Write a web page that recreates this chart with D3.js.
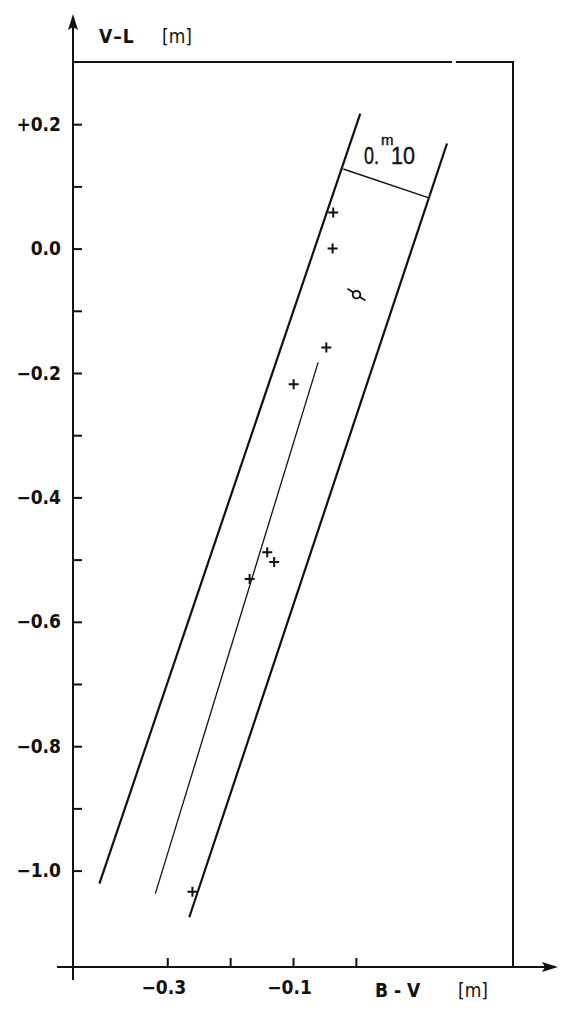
<!DOCTYPE html>
<html>
<head>
<meta charset="utf-8">
<script src="https://cdn.jsdelivr.net/npm/d3@7.9.0/dist/d3.min.js"></script>
<style>
  html, body { margin: 0; padding: 0; background: #fff; }
  svg { display: block; }
  .lbl { font-family: "DejaVu Sans Condensed", "DejaVu Sans", sans-serif; font-weight: bold; font-size: 19px; fill: #111; }
</style>
</head>
<body>
<div id="chart"></div>
<script>
// two-colour diagram, values (magnitudes)
const xTicks = [-0.3, -0.2, -0.1, 0.0];
const xTickLabels = { "-0.3": "\u22120.3", "-0.1": "\u22120.1" };
const yTicks = [0.2, 0.1, 0.0, -0.1, -0.2, -0.3, -0.4, -0.5, -0.6, -0.7, -0.8, -0.9, -1.0];
const yTickLabels = { "0.2": "+0.2", "0": "0.0", "-0.2": "\u22120.2", "-0.4": "\u22120.4",
                      "-0.6": "\u22120.6", "-0.8": "\u22120.8", "-1": "\u22121.0" };

// stars (+)
const starBV = [-0.036, -0.037, -0.047, -0.099, -0.141, -0.130, -0.169, -0.260];
const starVL = [0.058, 0.000, -0.159, -0.218, -0.488, -0.504, -0.531, -1.034];
// the special object (circle with stroke)
const specialBV = [0.001];
const specialVL = [-0.074];

// band edges and the mean line, [B-V, V-L]
const bandLeft = [[0.007, 0.217], [-0.408, -1.021]];
const bandRight = [[0.145, 0.169], [-0.265, -1.075]];
const meanLine = [[-0.060, -0.183], [-0.319, -1.037]];
const widthBar = [[-0.020, 0.128], [0.115, 0.082]];

const width = 570, height = 1014;
const margin = { top: 62, right: 57, bottom: 47, left: 73 };

const svg = d3.select("#chart").append("svg")
  .attr("width", width).attr("height", height);

const x = d3.scaleLinear().domain([-0.45, 0.25]).range([margin.left, width - margin.right]);
const y = d3.scaleLinear().domain([-1.155, 0.30]).range([height - margin.bottom, margin.top]);

const ink = "#111";

// frame: top and right
const x0 = x.range()[0], x1 = x.range()[1], yTop = y.range()[1], yBot = y.range()[0];
svg.append("line").attr("x1", x0).attr("x2", 452).attr("y1", yTop).attr("y2", yTop)
  .attr("stroke", ink).attr("stroke-width", 2);
svg.append("line").attr("x1", 456).attr("x2", x1 + 1).attr("y1", yTop).attr("y2", yTop)
  .attr("stroke", ink).attr("stroke-width", 2);
svg.append("line").attr("x1", x1).attr("x2", x1).attr("y1", yTop).attr("y2", yBot)
  .attr("stroke", ink).attr("stroke-width", 2);

// axis lines with arrows
svg.append("line").attr("x1", x0).attr("x2", x0).attr("y1", yBot + 13).attr("y2", 22)
  .attr("stroke", ink).attr("stroke-width", 2);
svg.append("path").attr("d", `M${x0},14 L${x0 - 5},30 L${x0},27 L${x0 + 5},30 Z`).attr("fill", ink);
svg.append("line").attr("x1", x0 - 16).attr("x2", 550).attr("y1", yBot).attr("y2", yBot)
  .attr("stroke", ink).attr("stroke-width", 2);
svg.append("path").attr("d", `M558,${yBot} L542,${yBot - 5} L545,${yBot} L542,${yBot + 5} Z`).attr("fill", ink);

// y axis ticks
const yAxis = svg.append("g")
  .attr("transform", `translate(${x0},0)`)
  .call(d3.axisLeft(y).tickValues(yTicks).tickSize(-9).tickPadding(12)
    .tickFormat(d => yTickLabels[String(+d.toFixed(1))] || ""));
yAxis.select(".domain").remove();
yAxis.selectAll("line").attr("stroke", ink).attr("stroke-width", 2);
yAxis.selectAll("text").attr("class", "lbl").attr("font-family", null).attr("font-size", null);

// x axis ticks
const xAxis = svg.append("g")
  .attr("transform", `translate(0,${yBot})`)
  .call(d3.axisBottom(x).tickValues(xTicks).tickSize(-9).tickPadding(14)
    .tickFormat(d => xTickLabels[String(+d.toFixed(1))] || ""));
xAxis.select(".domain").remove();
xAxis.selectAll("line").attr("stroke", ink).attr("stroke-width", 2);
xAxis.selectAll("text").attr("class", "lbl").attr("font-family", null).attr("font-size", null)
  .attr("dx", -4);

// axis titles
svg.append("text").attr("class", "lbl").attr("x", 99).attr("y", 43)
  .attr("letter-spacing", 1).text("V\u2013L");
svg.append("text").attr("class", "lbl").attr("x", 162).attr("y", 43)
  .style("font-weight", "normal").text("[m]");
svg.append("text").attr("class", "lbl").attr("x", 375).attr("y", 997).text("B - V");
svg.append("text").attr("class", "lbl").attr("x", 458).attr("y", 997)
  .style("font-weight", "normal").text("[m]");

// band and mean line
const line = d3.line().x(d => x(d[0])).y(d => y(d[1]));
svg.append("path").datum(bandLeft).attr("d", line).attr("fill", "none")
  .attr("stroke", ink).attr("stroke-width", 2.2);
svg.append("path").datum(bandRight).attr("d", line).attr("fill", "none")
  .attr("stroke", ink).attr("stroke-width", 2.2);
svg.append("path").datum(meanLine).attr("d", line).attr("fill", "none")
  .attr("stroke", ink).attr("stroke-width", 1.3);
svg.append("path").datum(widthBar).attr("d", line).attr("fill", "none")
  .attr("stroke", ink).attr("stroke-width", 1.5);

// 0.m10 label
const wl = svg.append("g").style("font-family", "'Liberation Sans', Arial, sans-serif")
  .attr("fill", ink).attr("stroke", ink).attr("stroke-width", 0.4);
wl.append("text").attr("x", 364).attr("y", 164).attr("font-size", 24)
  .attr("textLength", 15).attr("lengthAdjust", "spacingAndGlyphs").text("0.");
wl.append("text").attr("x", 391).attr("y", 164).attr("font-size", 24)
  .attr("textLength", 24).attr("lengthAdjust", "spacingAndGlyphs").text("10");
wl.append("text").attr("x", 381).attr("y", 145).attr("font-size", 15).text("m");

// plus markers
const stars = starBV.map((b, i) => ({ bv: b, vl: starVL[i] }));
svg.append("g").selectAll("path").data(stars).join("path")
  .attr("transform", d => `translate(${x(d.bv)},${y(d.vl)})`)
  .attr("d", "M-5,0H5M0,-5V5")
  .attr("stroke", ink).attr("stroke-width", 2).attr("fill", "none");

// special object
const sp = specialBV.map((b, i) => ({ bv: b, vl: specialVL[i] }));
const spG = svg.append("g").selectAll("g").data(sp).join("g")
  .attr("transform", d => `translate(${x(d.bv)},${y(d.vl)})`);
spG.append("path").attr("d", "M-9,-6L-3.5,-2.3M3.5,2.3L9,6")
  .attr("stroke", ink).attr("stroke-width", 1.8);
spG.append("circle").attr("r", 3.8).attr("fill", "none").attr("stroke", ink).attr("stroke-width", 1.8);
</script>
</body>
</html>
